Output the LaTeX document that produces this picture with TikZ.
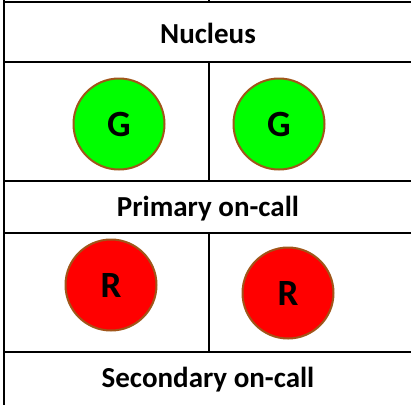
\documentclass[tikz,border=0pt]{standalone}
\usepackage{fontspec}
\setmainfont{Carlito}
\definecolor{ringbrown}{RGB}{160,85,25}
\definecolor{ggreen}{RGB}{0,255,0}
\definecolor{rred}{RGB}{255,0,0}
\begin{document}
\begin{tikzpicture}[x=1pt,y=-1pt,
  rule/.style={line width=2.2pt,black},
  headtxt/.style={font=\bfseries\fontsize{29}{33}\selectfont,inner sep=0pt},
  ball/.style={circle,draw=ringbrown,line width=2pt,minimum size=91pt,inner sep=0pt,font=\bfseries\fontsize{37}{41}\selectfont},
  gball/.style={ball,fill=ggreen},
  rball/.style={ball,fill=rred}]
\useasboundingbox (0,0) rectangle (411,405);
% grid lines
\coordinate (L0) at (4,0);
\coordinate (L1) at (4,405);
\draw[rule] (L0) -- (L1);
\foreach \y in {2,62,181,233,352} {
  \draw[rule] (3,\y) -- (411,\y);
}
\coordinate (T0) at (209,0);
\coordinate (T1) at (209,2);
\draw[rule] (T0) -- (T1);
\coordinate (V0) at (209,62);
\coordinate (V1) at (209,181);
\coordinate (V2) at (209,233);
\coordinate (V3) at (209,352);
\draw[rule] (V0) -- (V1);
\draw[rule] (V2) -- (V3);
% texts
\node[headtxt] (nuc) at (208,33) {Nucleus};
\node[headtxt] (prim) at (208,209) {Primary on-call};
\node[headtxt] (sec) at (208,380) {Secondary on-call};
% circles
\node[gball] (g1) at (119,124) {G};
\node[gball] (g2) at (279,124) {G};
\node[rball] (r1) at (111,285) {R};
\node[rball] (r2) at (288,293) {R};
\end{tikzpicture}
\end{document}
